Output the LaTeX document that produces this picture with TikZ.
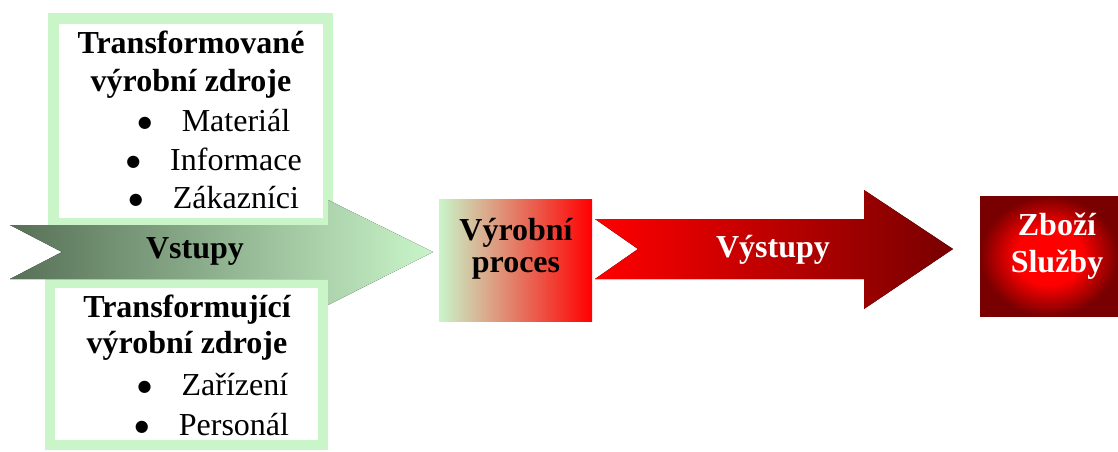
\documentclass[tikz,border=0pt]{standalone}
\usepackage{fontspec}
\setmainfont{Liberation Serif}
\newfontfamily\dotfont{DejaVu Sans}
\usepackage{xcolor}
\usepackage{tikz}
\definecolor{palegreen}{rgb}{0.79, 0.96, 0.79}
\definecolor{mossgreen}{rgb}{0.34, 0.44, 0.34}
\definecolor{sagegreen}{rgb}{0.55, 0.70, 0.55}
\definecolor{tanbeige}{rgb}{0.89, 0.70, 0.56}
\definecolor{brightred}{rgb}{1, 0, 0}
\definecolor{maroonred}{rgb}{0.47, 0, 0}
\pgfdeclareradialshading{goodsglow}{\pgfpoint{0bp}{0bp}}{color(0bp)=(brightred); color(12bp)=(brightred); color(25bp)=(maroonred); color(50bp)=(maroonred)}
\tikzset{
  srcframe/.style={draw=palegreen, line width=10.5pt, fill=white},
  titletext/.style={font=\bfseries\fontsize{32}{38}\selectfont, anchor=base, inner sep=0pt},
  itemtext/.style={font=\fontsize{32}{38}\selectfont, anchor=base, inner sep=0pt},
  lighttext/.style={titletext, text=white}
}
\newcommand{\itemdot}{\raisebox{3.5pt}{\dotfont\fontsize{16}{20}\selectfont ●}\hspace{30pt}}

\begin{document}
\begin{tikzpicture}[x=1pt, y=-1pt]
\useasboundingbox (0,0) rectangle (1118,452);
% resource boxes
\draw[srcframe] (53.5,18.5) rectangle (328,223.5);
\draw[srcframe] (50,283) rectangle (323,445);
\node[titletext] (tvz1) at (191,54) {Transformované};
\node[titletext] (tvz2) at (191,92) {výrobní zdroje};
\node[itemtext] (mat) at (214,131) {\itemdot Materiál};
\node[itemtext] (inf) at (214,170) {\itemdot Informace};
\node[itemtext] (zak) at (214,208) {\itemdot Zákazníci};
\node[titletext] (tjz1) at (187,317) {Transformující};
\node[titletext] (tjz2) at (187,353) {výrobní zdroje};
\node[itemtext] (zar) at (213,395) {\itemdot Zařízení};
\node[itemtext] (per) at (212,435) {\itemdot Personál};
% input arrow
\fill[left color=mossgreen, middle color=sagegreen, right color=palegreen]
  (10,225) -- (328,225) -- (328,200) -- (433,252) -- (328,305) -- (328,279) -- (10,279) -- (62,252) -- cycle;
\node[titletext] (vst) at (195,258) {Vstupy};
% process
\fill[left color=palegreen, middle color=tanbeige, right color=brightred] (439,199) rectangle (592,321);
\node[titletext] (pr1) at (516,240) {Výrobní};
\node[titletext] (pr2) at (516,272) {proces};
% output arrow
\fill[left color=brightred, right color=maroonred]
  (595,219) -- (864,219) -- (864,190) -- (953,249) -- (864,309) -- (864,279) -- (595,279) -- (638,249) -- cycle;
\node[lighttext] (vys) at (773,257) {Výstupy};
% goods
\fill[shading=goodsglow] (980,196) rectangle (1118,316);
\node[lighttext] (zb) at (1057,235) {Zboží};
\node[lighttext] (sl) at (1057,272) {Služby};
\end{tikzpicture}
\end{document}
